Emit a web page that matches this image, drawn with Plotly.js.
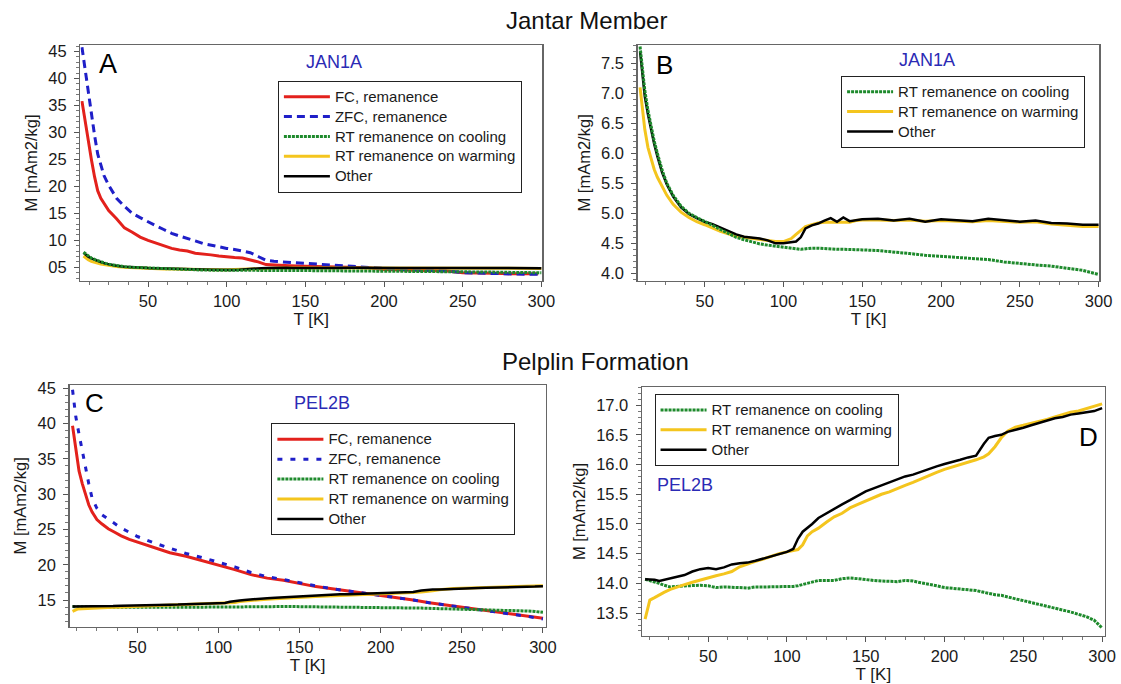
<!DOCTYPE html>
<html>
<head>
<meta charset="utf-8">
<script src="https://cdn.plot.ly/plotly-3.0.1.min.js"></script>
<style>html,body{margin:0;padding:0;background:#fff;}#chart{width:1121px;height:684px;}</style>
</head>
<body>
<div id="chart"></div>
<script>
// ---------- Panel A (JAN1A) FC / ZFC ----------
const T_A = [8,10,12,14,16,18,20,22,25,30,35,40,45,50,55,60,65,70,75,80,85,90,95,100,105,110,115,120,125,130,140,150,160,170,180,190,200,210,220,230,240,250,260,270,280,290,298];
const A_FC = [35.8,32,28.5,25,21.8,19.2,17.8,16.8,15.5,14,12.3,11.5,10.6,10.0,9.5,9.0,8.5,8.2,8.0,7.6,7.5,7.3,7.1,6.9,6.8,6.7,6.4,6.0,5.5,5.4,5.3,5.2,5.1,5.0,5.0,4.9,4.6,4.5,4.4,4.4,4.3,4.0,4.0,3.9,3.8,3.8,3.8];
const A_ZFC = [45.8,41.5,37.5,33,29.5,26,24,22,20.2,17.8,16.3,15,14.2,13.4,12.7,12,11.3,10.8,10.4,9.9,9.4,9.1,8.7,8.5,8.3,8.0,7.7,7.0,6.3,6.1,5.9,5.8,5.6,5.4,5.2,5.0,4.8,4.6,4.5,4.4,4.3,4.0,3.9,3.8,3.7,3.7,3.7];

// ---------- JAN1A RT remanence (panels A and B) ----------
const T_JAN = [9,10,12,14,16,18,20,23,26,30,35,40,45,50,55,60,65,70,75,80,85,90,95,100,105,108,111,114,118,122,126,130,134,138,142,146,150,160,170,180,190,200,210,220,230,240,250,260,270,280,290,300];
const JAN_cool = [7.78,7.55,7.05,6.72,6.45,6.2,6.0,5.72,5.5,5.3,5.12,5.0,4.93,4.87,4.8,4.73,4.66,4.6,4.56,4.52,4.49,4.47,4.45,4.44,4.42,4.41,4.40,4.41,4.42,4.42,4.41,4.40,4.40,4.40,4.40,4.39,4.39,4.38,4.36,4.33,4.30,4.28,4.26,4.24,4.23,4.19,4.16,4.14,4.12,4.09,4.05,3.98];
const JAN_warm = [7.1,6.85,6.4,6.1,5.9,5.73,5.6,5.45,5.3,5.15,5.02,4.93,4.86,4.81,4.75,4.7,4.66,4.62,4.6,4.58,4.57,4.55,4.53,4.53,4.58,4.65,4.72,4.78,4.81,4.84,4.85,4.85,4.86,4.86,4.85,4.88,4.89,4.89,4.88,4.89,4.87,4.88,4.87,4.86,4.88,4.87,4.85,4.86,4.82,4.80,4.78,4.78];
const JAN_other = [7.7,7.45,6.95,6.65,6.38,6.15,5.95,5.68,5.48,5.28,5.1,4.99,4.92,4.86,4.82,4.76,4.7,4.65,4.61,4.6,4.58,4.55,4.5,4.5,4.52,4.53,4.6,4.75,4.8,4.83,4.88,4.92,4.86,4.93,4.87,4.89,4.9,4.91,4.88,4.91,4.86,4.9,4.88,4.87,4.91,4.88,4.86,4.88,4.84,4.83,4.81,4.81];

// ---------- Panel C (PEL2B) FC / ZFC ----------
const T_PELfc = [10,12,14,16,18,20,22,25,28,32,36,40,45,50,60,70,80,90,100,110,120,130,140,150,160,170,180,190,200,210,220,230,240,250,260,270,280,290,300];
const PEL_FC = [39.7,36.5,33.3,31.5,29.8,28.5,27.5,26.4,25.8,25.1,24.6,24.1,23.6,23.2,22.4,21.7,21.2,20.6,19.9,19.3,18.6,18.1,17.8,17.3,16.9,16.6,16.3,16.0,15.7,15.4,15.0,14.6,14.3,13.95,13.7,13.4,13.1,12.8,12.4];
const PEL_ZFC = [44.8,41,38.5,36,33.5,31.5,29.5,28.0,27.1,26.5,25.8,25.2,24.6,24.0,23.1,22.3,21.6,21.0,20.4,19.7,18.9,18.3,17.9,17.4,17.0,16.6,16.3,16.0,15.7,15.4,15.0,14.6,14.3,13.95,13.65,13.35,13.05,12.7,12.3];

// ---------- PEL2B RT remanence (panels C and D) ----------
const T_PELrt = [10,13,16,19,22,26,30,35,40,45,50,55,60,65,70,75,80,85,90,95,100,104,107,110,113,116,120,125,130,135,140,145,150,155,160,165,170,175,180,185,190,195,200,205,210,215,220,225,228,232,236,240,245,250,255,260,265,270,275,280,285,290,295,300];
const PEL_cool = [14.07,14.05,14.03,14.0,13.97,13.94,13.95,13.96,13.97,13.97,13.96,13.93,13.94,13.94,13.93,13.92,13.94,13.94,13.94,13.94,13.94,13.95,13.96,13.98,14.0,14.03,14.05,14.05,14.05,14.08,14.09,14.08,14.06,14.05,14.04,14.03,14.03,14.05,14.04,14.01,13.99,13.96,13.93,13.92,13.91,13.9,13.88,13.85,13.83,13.81,13.8,13.77,13.74,13.71,13.68,13.65,13.61,13.58,13.55,13.52,13.48,13.44,13.38,13.25];
const PEL_warm = [13.4,13.72,13.76,13.81,13.85,13.9,13.94,13.98,14.02,14.06,14.1,14.13,14.16,14.2,14.28,14.33,14.37,14.41,14.46,14.5,14.53,14.55,14.57,14.65,14.8,14.87,14.93,15.03,15.12,15.18,15.27,15.33,15.39,15.44,15.5,15.54,15.6,15.65,15.7,15.76,15.81,15.87,15.92,15.96,15.99,16.04,16.08,16.13,16.18,16.3,16.45,16.56,16.63,16.66,16.69,16.72,16.76,16.8,16.84,16.88,16.9,16.94,16.98,17.02];
const PEL_other = [14.07,14.07,14.06,14.04,14.06,14.09,14.11,14.14,14.2,14.24,14.26,14.24,14.27,14.32,14.34,14.35,14.38,14.42,14.46,14.5,14.53,14.58,14.75,14.87,14.93,15.0,15.1,15.18,15.25,15.33,15.4,15.48,15.55,15.6,15.65,15.71,15.75,15.8,15.83,15.88,15.92,15.97,16.01,16.04,16.08,16.12,16.15,16.35,16.45,16.48,16.5,16.55,16.58,16.62,16.66,16.7,16.73,16.78,16.8,16.84,16.86,16.88,16.9,16.95];

// tick labels
const A_yticks = [5,10,15,20,25,30,35,40,45];
const A_yticktext = ['05','10','15','20','25','30','35','40','45'];

const NAMES = ['FC, remanence','ZFC, remanence','RT remanence on cooling','RT remanence on warming','Other'];
const COL = {fc:'#e3211c', zfc:'#1f1fc8', cool:'#1e8a2c', warm:'#f4c51e', other:'#000000'};
const FONT = 'Arial, "Liberation Sans", Helvetica, sans-serif';

function tr(x, y, name, key, xa, ya, leg, rank, extra) {
  const line = {color: COL[key], width: 3};
  if (key === 'zfc') line.dash = '8px,5px';
  if (key === 'cool') line.dash = '3px,1px';
  if (key === 'other') line.width = 2.5;
  return Object.assign({type:'scatter', mode:'lines', x:x, y:y,
    name:'<span style="font-size:15px">' + name + '</span>', xaxis:xa, yaxis:ya,
    legend:leg, legendrank:rank, line:line, hoverinfo:'skip'}, extra || {});
}

const data = [
  // A
  tr(T_A, A_FC, NAMES[0], 'fc', 'x', 'y', 'legend', 1),
  tr(T_A, A_ZFC, NAMES[1], 'zfc', 'x', 'y', 'legend', 2),
  tr(T_JAN, JAN_warm, NAMES[3], 'warm', 'x', 'y', 'legend', 4),
  tr(T_JAN, JAN_other, NAMES[4], 'other', 'x', 'y', 'legend', 5),
  tr(T_JAN, JAN_cool, NAMES[2], 'cool', 'x', 'y', 'legend', 3),
  // B
  tr(T_JAN, JAN_warm, NAMES[3], 'warm', 'x2', 'y2', 'legend2', 2),
  tr(T_JAN, JAN_other, NAMES[4], 'other', 'x2', 'y2', 'legend2', 3),
  tr(T_JAN, JAN_cool, NAMES[2], 'cool', 'x2', 'y2', 'legend2', 1),
  // C
  tr(T_PELfc, PEL_FC, NAMES[0], 'fc', 'x3', 'y3', 'legend3', 1),
  tr(T_PELfc, PEL_ZFC, NAMES[1], 'zfc', 'x3', 'y3', 'legend3', 2, {line:{color:COL.zfc, width:3, dash:'5px,8px'}}),
  tr(T_PELrt, PEL_cool, NAMES[2], 'cool', 'x3', 'y3', 'legend3', 3),
  tr(T_PELrt, PEL_warm, NAMES[3], 'warm', 'x3', 'y3', 'legend3', 4),
  tr(T_PELrt, PEL_other, NAMES[4], 'other', 'x3', 'y3', 'legend3', 5),
  // D
  tr(T_PELrt, PEL_cool, NAMES[2], 'cool', 'x4', 'y4', 'legend4', 1),
  tr(T_PELrt, PEL_warm, NAMES[3], 'warm', 'x4', 'y4', 'legend4', 2),
  tr(T_PELrt, PEL_other, NAMES[4], 'other', 'x4', 'y4', 'legend4', 3)
];

function xax(domain, range, anchor) {
  return {domain:domain, range:range, anchor:anchor, showline:true, mirror:true, linecolor:'#666', linewidth:1.5,
    ticks:'outside', ticklen:5, tickwidth:1, tickcolor:'#555', tick0:0, dtick:50,
    minor:{ticks:'outside', ticklen:3, tick0:0, dtick:12.5, tickcolor:'#777'},
    tickfont:{family:FONT, size:16.5, color:'#1a1a1a'}, showgrid:false, zeroline:false,
    title:{text:'T [K]', font:{family:FONT, size:17, color:'#1a1a1a'}, standoff:2}};
}
function yax(domain, range, anchor, extra) {
  return Object.assign({domain:domain, range:range, anchor:anchor, showline:true, mirror:true, linecolor:'#666', linewidth:1.5,
    ticks:'outside', ticklen:5, tickwidth:1, tickcolor:'#555', ticklabelstandoff:4,
    tickfont:{family:FONT, size:16.5, color:'#1a1a1a'}, showgrid:false, zeroline:false,
    title:{text:'M [mAm2/kg]', font:{family:FONT, size:16.5, color:'#1a1a1a'}, standoff:6}}, extra);
}
function leg(x, y) {
  return {x:x, y:y, xanchor:'left', yanchor:'top', bgcolor:'rgba(255,255,255,0)', bordercolor:'#222', borderwidth:1,
    font:{family:FONT, size:13, color:'#1a1a1a'}, tracegroupgap:0, itemwidth:46, traceorder:'normal'};
}
function ann(x, y, text, size, color) {
  return {xref:'paper', yref:'paper', x:x, y:y, xanchor:'center', yanchor:'middle', showarrow:false,
    text:text, font:{family:FONT, size:size, color:color}};
}

const layout = {
  width:1121, height:684, margin:{l:0, r:0, t:0, b:0},
  paper_bgcolor:'#fff', plot_bgcolor:'#fff', font:{family:FONT},
  xaxis: xax([0.0717, 0.4836], [7, 300.5], 'y'),
  yaxis: yax([0.5892, 0.9342], [2.46, 46.2], 'x', {tickmode:'array', tickvals:A_yticks, ticktext:A_yticktext,
           minor:{ticks:'outside', ticklen:3, tickmode:'linear', tick0:0, dtick:1, tickcolor:'#777'}}),
  xaxis2: xax([0.5690, 0.9807], [7.6, 300.5], 'y2'),
  yaxis2: yax([0.5896, 0.9342], [3.877, 7.805], 'x2', {tick0:0, dtick:0.5, tickformat:'.1f',
           minor:{ticks:'outside', ticklen:3, tick0:0, dtick:0.1, tickcolor:'#777'}}),
  xaxis3: xax([0.0621, 0.4868], [8.2, 301.7], 'y3'),
  yaxis3: yax([0.0838, 0.4371], [11.22, 45.47], 'x3', {tick0:0, dtick:5,
           minor:{ticks:'outside', ticklen:3, tick0:0, dtick:1, tickcolor:'#777'}}),
  xaxis4: xax([0.5728, 0.9854], [8.1, 301.6], 'y4'),
  yaxis4: yax([0.0706, 0.4338], [13.12, 17.30], 'x4', {tick0:0, dtick:0.5, tickformat:'.1f',
           minor:{ticks:'outside', ticklen:3, tick0:0, dtick:0.1, tickcolor:'#777'}}),
  legend: leg(0.2479, 0.8820),
  legend2: leg(0.7503, 0.8893),
  legend3: leg(0.2421, 0.3811),
  legend4: leg(0.5839, 0.4240),
  annotations: [
    ann(0.5234, 0.9693, 'Jantar Member', 24, '#111'),
    ann(0.5315, 0.4722, 'Pelplin Formation', 24, '#111'),
    ann(0.0959, 0.9061, 'A', 27, '#000'),
    ann(0.5932, 0.9050, 'B', 26, '#000'),
    ann(0.0844, 0.4104, 'C', 26, '#000'),
    ann(0.9710, 0.3616, 'D', 26, '#000'),
    ann(0.2979, 0.9089, 'JAN1A', 18, '#2b2bb5'),
    ann(0.8269, 0.9123, 'JAN1A', 18, '#2b2bb5'),
    ann(0.2875, 0.4104, 'PEL2B', 18, '#2b2bb5'),
    ann(0.6107, 0.2909, 'PEL2B', 18, '#2b2bb5')
  ]
};

Plotly.newPlot('chart', data, layout, {displayModeBar:false, staticPlot:true});
</script>
</body>
</html>
